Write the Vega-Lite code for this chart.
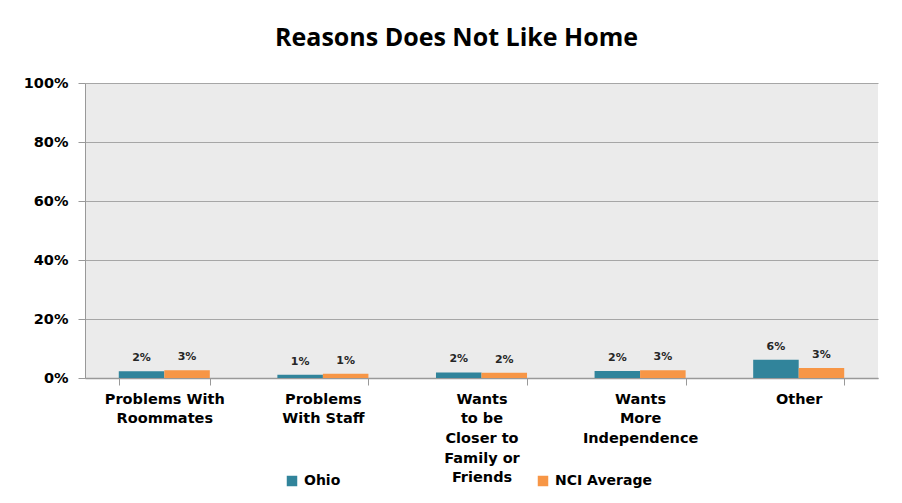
{
  "$schema": "https://vega.github.io/schema/vega-lite/v6.json",
  "autosize": "none",
  "width": 793,
  "height": 295,
  "padding": {"left": 85, "top": 83, "right": 24, "bottom": 125},
  "background": "white",
  "title": {
    "text": "Reasons Does Not Like Home",
    "font": "Open Sans",
    "fontSize": 25,
    "fontWeight": "bold",
    "color": "#000000",
    "anchor": "middle",
    "dx": -25,
    "offset": 24
  },
  "config": {
    "view": {"fill": "#ebebeb", "stroke": null},
    "font": "DejaVu Sans"
  },
  "data": {
    "values": [
      {"reason": "Problems With Roommates", "series": "Ohio", "value": 0.023},
      {"reason": "Problems With Roommates", "series": "NCI Average", "value": 0.026},
      {"reason": "Problems With Staff", "series": "Ohio", "value": 0.011},
      {"reason": "Problems With Staff", "series": "NCI Average", "value": 0.014},
      {"reason": "Wants to be Closer to Family or Friends", "series": "Ohio", "value": 0.019},
      {"reason": "Wants to be Closer to Family or Friends", "series": "NCI Average", "value": 0.018},
      {"reason": "Wants More Independence", "series": "Ohio", "value": 0.024},
      {"reason": "Wants More Independence", "series": "NCI Average", "value": 0.026},
      {"reason": "Other", "series": "Ohio", "value": 0.062},
      {"reason": "Other", "series": "NCI Average", "value": 0.034}
    ]
  },
  "encoding": {
    "x": {
      "field": "reason",
      "type": "nominal",
      "sort": null,
      "scale": {"paddingInner": 0.426, "paddingOuter": 0.213},
      "axis": {
        "title": null,
        "labelAngle": 0,
        "labelFont": "DejaVu Sans",
        "labelFontSize": 14.5,
        "labelFontWeight": "bold",
        "labelColor": "#000000",
        "labelLineHeight": 19.7,
        "labelPadding": 7,
        "labelBaseline": "top",
        "labelExpr": "datum.label == 'Problems With Roommates' ? ['Problems With','Roommates'] : datum.label == 'Problems With Staff' ? ['Problems','With Staff'] : datum.label == 'Wants to be Closer to Family or Friends' ? ['Wants','to be','Closer to','Family or','Friends'] : datum.label == 'Wants More Independence' ? ['Wants','More','Independence'] : datum.label",
        "tickBand": "extent",
        "tickColor": "#999999",
        "tickSize": 7,
        "domainColor": "#999999",
        "domainWidth": 1.5
      }
    },
    "xOffset": {"field": "series", "type": "nominal", "sort": ["Ohio", "NCI Average"], "scale": {"paddingInner": 0}},
    "y": {
      "field": "value",
      "type": "quantitative",
      "scale": {"domain": [0, 1]},
      "axis": {
        "title": null,
        "values": [0, 0.2, 0.4, 0.6, 0.8, 1],
        "format": ".0%",
        "labelFont": "DejaVu Sans",
        "labelFontSize": 14.5,
        "labelFontWeight": "bold",
        "labelColor": "#000000",
        "labelPadding": 10,
        "tickColor": "#999999",
        "tickSize": 7,
        "gridColor": "#a6a6a6",
        "gridWidth": 1.2,
        "domainColor": "#999999"
      }
    }
  },
  "layer": [
    {
      "mark": {"type": "bar"},
      "encoding": {
        "color": {
          "field": "series",
          "type": "nominal",
          "sort": ["Ohio", "NCI Average"],
          "scale": {"domain": ["Ohio", "NCI Average"], "range": ["#31849b", "#f79646"]},
          "legend": {
            "title": null,
            "orient": "none",
            "legendX": 200,
            "legendY": 391,
            "direction": "horizontal",
            "symbolType": "square",
            "symbolSize": 110,
            "symbolStrokeWidth": 0,
            "labelFont": "DejaVu Sans",
            "labelFontSize": 14,
            "labelFontWeight": "bold",
            "labelColor": "#000000",
            "labelOffset": 5,
            "columnPadding": 195
          }
        }
      }
    },
    {
      "mark": {"type": "text", "baseline": "bottom", "dy": -8, "font": "DejaVu Sans", "fontSize": 11, "fontWeight": "bold", "color": "#262626"},
      "encoding": {
        "text": {"field": "value", "type": "quantitative", "format": ".0%"}
      }
    }
  ]
}
